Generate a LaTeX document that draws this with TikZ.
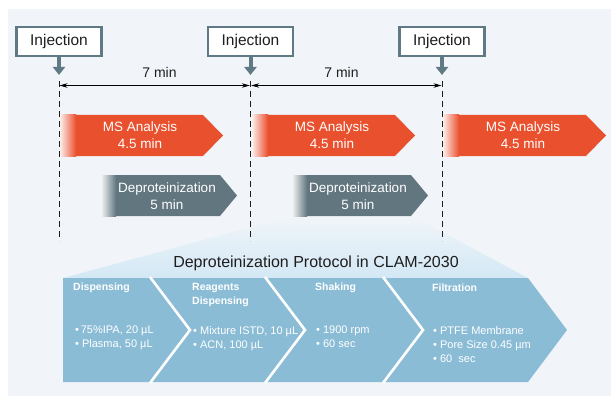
\documentclass[tikz,border=0pt]{standalone}
\usepackage{fontspec}
\setmainfont{Liberation Sans}
\usetikzlibrary{arrows.meta}
\definecolor{bgc}{HTML}{F1F5F9}
\definecolor{injc}{HTML}{5F7A84}
\definecolor{msorange}{HTML}{E9502E}
\definecolor{deprogray}{HTML}{627680}
\definecolor{chevc}{HTML}{8ABCD6}
\definecolor{trapc}{HTML}{D3E8F5}
\definecolor{txtc}{HTML}{1E1E1E}
\begin{document}
\begin{tikzpicture}[x=1pt,y=-1pt,
  injbox/.style={draw=injc,line width=2.6pt,fill=white,minimum width=85pt,minimum height=29pt,inner sep=0pt,
    text=txtc,font=\fontsize{15.5}{18}\selectfont},
  injarrow/.style={draw=injc,line width=4pt,-{Triangle[width=12pt,length=8pt]}},
  vdash/.style={draw=txtc,line width=0.9pt,dash pattern=on 6pt off 4pt},
  dimline/.style={draw=black,line width=0.9pt,{Stealth[length=8pt,width=4.5pt]}-{Stealth[length=8pt,width=4.5pt]}},
  dimtxt/.style={text=txtc,font=\fontsize{14}{16}\selectfont},
  bartxt/.style={text=white,align=center,font=\fontsize{13.5}{17}\selectfont},
  headtxt/.style={text=white,anchor=west,inner sep=0pt,font=\fontsize{10.5}{14}\selectfont\bfseries},
  bultxt/.style={text=white,anchor=north west,align=left,inner sep=0pt,font=\fontsize{11}{14}\selectfont},
  sepline/.style={draw=white,line width=2.6pt}
]
\useasboundingbox (0,0) rectangle (611,396);
\fill[white] (0,0) rectangle (611,396);
\fill[bgc] (8,9) rectangle (611,396);

% trapezoid zoom
\shade[top color=bgc,bottom color=trapc] (292,216) -- (412,216) -- (528,278) -- (63,278) -- cycle;

% injection boxes
\node[injbox] (inj1) at (59,41.5) {Injection};
\node[injbox] (inj2) at (250.5,41.5) {Injection};
\node[injbox] (inj3) at (442,41.5) {Injection};
\coordinate (t1) at (59,75);
\coordinate (t2) at (250.5,75);
\coordinate (t3) at (442,75);
\draw[injarrow] (inj1.south) -- (t1);
\draw[injarrow] (inj2.south) -- (t2);
\draw[injarrow] (inj3.south) -- (t3);

% dashed lines
\coordinate (v1a) at (59,81); \coordinate (v1b) at (59,241);
\coordinate (v2a) at (250.5,81); \coordinate (v2b) at (250.5,241);
\coordinate (v3a) at (442,81); \coordinate (v3b) at (442,241);
\draw[vdash] (v1a) -- (v1b);
\draw[vdash] (v2a) -- (v2b);
\draw[vdash] (v3a) -- (v3b);

% dimension lines
\coordinate (d1) at (59.5,85.5); \coordinate (d2) at (249.8,85.5);
\coordinate (d3) at (251.2,85.5); \coordinate (d4) at (441.5,85.5);
\draw[dimline] (d1) -- (d2);
\draw[dimline] (d3) -- (d4);
\node[dimtxt] (m1) at (159.5,72) {7 min};
\node[dimtxt] (m2) at (341.5,72) {7 min};

% MS analysis arrows
\foreach \s/\n in {0/1,192/2,383/3}{
  \fill[msorange] (60+\s,115) -- (203+\s,115) -- (223+\s,135.5) -- (203+\s,156) -- (60+\s,156) -- cycle;
  \shade[left color=msorange!10!white,right color=msorange] (60+\s,115) rectangle (76+\s,156);
  \node[bartxt] (ms\n) at (140+\s,135.5) {MS Analysis\\4.5 min};
}

% Deproteinization arrows
\foreach \s/\n in {0/1,191/2}{
  \fill[deprogray] (101+\s,175) -- (220+\s,175) -- (237+\s,195.5) -- (220+\s,216) -- (101+\s,216) -- cycle;
  \shade[left color=deprogray!8!white,right color=deprogray] (101+\s,175) rectangle (116+\s,216);
  \node[bartxt] (dp\n) at (167+\s,196) {Deproteinization\\5 min};
}

% protocol title
\node[text=txtc,font=\fontsize{16}{18}\selectfont] (title) at (316,263) {Deproteinization Protocol in CLAM-2030};

% chevron band
\fill[chevc] (63,278) -- (528,278) -- (567,330) -- (528,382) -- (63,382) -- cycle;
\draw[sepline] (150,277) -- (190,330) -- (150,383);
\draw[sepline] (265,277) -- (305,330) -- (265,383);
\draw[sepline] (383,277) -- (423,330) -- (383,383);

\node[headtxt] (h1) at (73,288) {Dispensing};
\node[headtxt] (h2a) at (192,288) {Reagents};
\node[headtxt] (h2b) at (192,302) {Dispensing};
\node[headtxt] (h3) at (315,288) {Shaking};
\node[headtxt] (h4) at (432,288) {Filtration};

\node[bultxt] (b1) at (75,326) {•\,75\%IPA, 20 µL\\ • Plasma, 50 µL};
\node[bultxt] (b2) at (193,326) {• Mixture ISTD, 10 µL\\• ACN, 100 µL};
\node[bultxt] (b3) at (316,326) {• 1900 rpm\\• 60 sec};
\node[bultxt] (b4) at (433,326) {• PTFE Membrane\\• Pore Size 0.45 µm\\• 60\ \ sec};
\end{tikzpicture}
\end{document}
